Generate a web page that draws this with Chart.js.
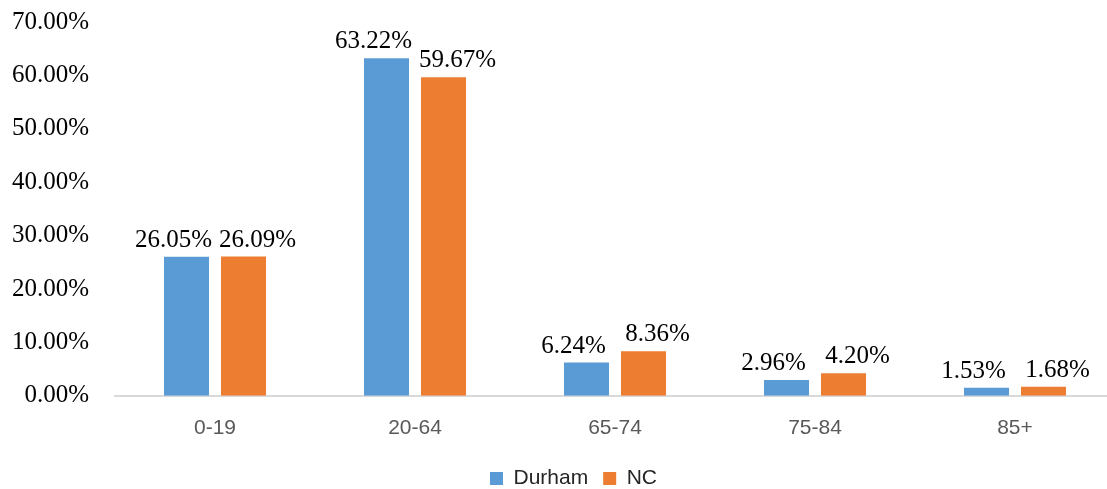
<!DOCTYPE html>
<html>
<head>
<meta charset="utf-8">
<script src="https://cdn.jsdelivr.net/npm/chart.js@4.4.0/dist/chart.umd.min.js"></script>
<style>
  html, body { margin: 0; padding: 0; background: #fff; overflow: hidden; }
  #wrap { width: 1178px; height: 499px; position: relative; }
</style>
</head>
<body>
<div id="wrap"><canvas id="chart"></canvas></div>
<script>
const categories = ['0-19', '20-64', '65-74', '75-84', '85+'];
const durham = [26.05, 63.22, 6.24, 2.96, 1.53];
const nc = [26.09, 59.67, 8.36, 4.20, 1.68];
const yTicks = [0, 10, 20, 30, 40, 50, 60, 70];

// draws the value labels above each bar
const valueLabels = {
    id: 'valueLabels',
    afterDatasetsDraw(chart) {
        const ctx = chart.ctx;
        ctx.save();
        ctx.font = '25px "Liberation Serif", "Times New Roman", serif';
        ctx.fillStyle = '#000';
        ctx.textAlign = 'center';
        ctx.textBaseline = 'bottom';
        chart.data.datasets.forEach((ds, i) => {
            const meta = chart.getDatasetMeta(i);
            const shift = i === 0 ? -13 : 14;
            meta.data.forEach((bar, j) => {
                ctx.fillText(ds.data[j].toFixed(2) + '%', bar.x + shift, bar.y - 4);
            });
        });
        ctx.restore();
    }
};

// legend sits a little right of the canvas centre in the original
const legendShift = {
    id: 'legendShift',
    afterLayout(chart) {
        chart.legend.left += 16;
        chart.legend.right += 16;
    }
};

const ctx = document.getElementById('chart').getContext('2d');
new Chart(ctx, {
    type: 'bar',
    data: {
        labels: categories,
        datasets: [{
            label: 'Durham',
            data: durham,
            backgroundColor: '#5B9BD5',
            categoryPercentage: 0.57,
            barPercentage: 0.79
        }, {
            label: 'NC',
            data: nc,
            backgroundColor: '#ED7D31',
            categoryPercentage: 0.57,
            barPercentage: 0.79
        }]
    },
    options: {
        responsive: true,
        maintainAspectRatio: false,
        animation: false,
        layout: { padding: { top: 22, right: 63, left: 0, bottom: 0 } },
        scales: {
            y: {
                min: 0,
                max: 70,
                afterBuildTicks: scale => { scale.ticks = yTicks.map(v => ({ value: v })); },
                afterFit: scale => { scale.width = 115; },
                grid: { display: false, drawTicks: true, tickLength: 26 },
                border: { display: false },
                ticks: {
                    padding: 0,
                    color: '#000',
                    font: { family: '"Liberation Serif", "Times New Roman", serif', size: 25 },
                    callback: v => v.toFixed(2) + '%'
                }
            },
            x: {
                grid: { display: false },
                border: { display: true, color: '#d9d9d9', width: 2 },
                ticks: {
                    padding: 12,
                    color: '#595959',
                    font: { family: '"Liberation Sans", Arial, sans-serif', size: 21 }
                }
            }
        },
        plugins: {
            legend: {
                position: 'bottom',
                labels: {
                    boxWidth: 13,
                    boxHeight: 13,
                    padding: 15,
                    color: '#262626',
                    font: { family: '"Liberation Sans", Arial, sans-serif', size: 21 }
                }
            },
            tooltip: { enabled: false }
        }
    },
    plugins: [valueLabels, legendShift]
});
</script>
</body>
</html>
